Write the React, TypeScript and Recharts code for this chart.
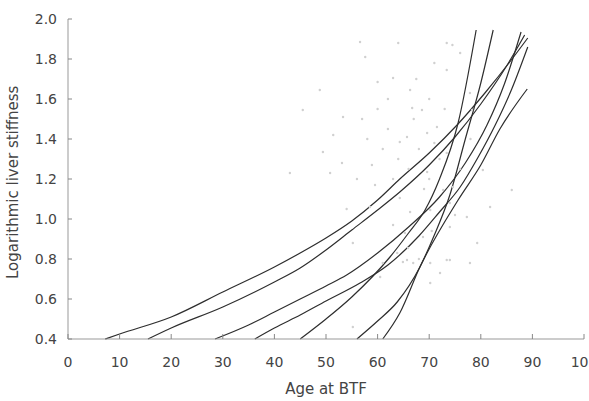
import React from "react";
import { ComposedChart, Line, Scatter, XAxis, YAxis } from "recharts";

// tick labels
const xTicks = [0, 10, 20, 30, 40, 50, 60, 70, 80, 90, 100];
const yTicks = [0.4, 0.6, 0.8, 1.0, 1.2, 1.4, 1.6, 1.8, 2.0];

// fitted curves (age, log stiffness)
const curve1 = [
  [7.2, 0.4], [10, 0.425], [20, 0.51], [30, 0.635], [40, 0.76], [45, 0.83], [50, 0.905],
  [55, 0.99], [60, 1.095], [64.3, 1.2], [70, 1.33], [75.4, 1.47], [80.8, 1.63], [86.2, 1.805], [89.1, 1.905],
];
const curve2 = [
  [15.5, 0.4], [20, 0.455], [30, 0.56], [40, 0.685], [45, 0.755], [50, 0.845], [55, 0.945],
  [60, 1.045], [64.3, 1.135], [70, 1.27], [75, 1.41], [80, 1.575], [85, 1.765], [88.5, 1.92],
];
const curve3 = [
  [28.5, 0.4], [35, 0.47], [40, 0.535], [45, 0.6], [50, 0.665], [54, 0.72], [60, 0.83],
  [66, 0.96], [72, 1.11], [77, 1.28], [81.2, 1.47], [84.5, 1.67], [87.8, 1.935],
];
const curve4 = [
  [36.2, 0.4], [40, 0.455], [45, 0.52], [50, 0.59], [56.6, 0.68], [62, 0.77], [68, 0.915],
  [72, 1.035], [76, 1.16], [79.5, 1.31], [82.8, 1.47], [86, 1.65], [89.1, 1.86],
];
const curve5 = [
  [45, 0.4], [50, 0.5], [55, 0.61], [62.4, 0.81], [66, 0.93], [69.2, 1.045], [72, 1.2], [75.6, 1.48], [79.1, 1.945],
];
const curve6 = [
  [56, 0.4], [60, 0.49], [63.8, 0.585], [68.2, 0.76], [71, 0.92], [74, 1.12], [77, 1.4], [80, 1.68], [82.4, 1.945],
];
const curve7 = [
  [61, 0.4], [64.3, 0.53], [68.2, 0.76], [75.6, 1.095], [80, 1.27], [83.7, 1.45], [89, 1.65],
];

// individual patients (faint dots)
const patients = [
  [56.6, 1.885], [64, 1.88], [73.4, 1.88], [74.5, 1.87], [57.6, 1.81], [63, 1.705], [60, 1.685],
  [66.3, 1.645], [48.8, 1.645], [45.5, 1.545], [53.3, 1.51], [57, 1.5], [66.7, 1.555], [68.6, 1.545],
  [51.4, 1.42], [65.7, 1.41], [69.6, 1.43], [49.4, 1.335], [53.1, 1.28], [58.9, 1.27], [50.8, 1.23],
  [69.6, 1.235], [73.4, 1.33], [80.4, 1.245], [86, 1.145], [74.6, 1.16], [64.3, 1.385], [71.5, 1.46],
  [73.4, 1.745], [76, 1.83], [78.3, 1.545], [77.9, 1.63], [43, 1.23], [58.5, 1.06], [63, 0.97],
  [65.7, 0.795], [68, 0.8], [72.1, 0.73], [74, 0.795], [77.9, 0.78], [77.3, 1.01], [79.3, 0.88],
  [81.8, 1.06], [70.2, 0.68], [55.2, 0.46], [65.3, 0.93], [70.5, 0.94], [74, 0.96], [59.5, 1.17],
  [64.3, 1.105], [66.3, 1.035], [70.2, 1.045], [72.7, 1.145], [74, 1.08], [55.2, 0.88], [65.9, 0.855],
  [64.9, 0.785], [66.9, 0.78], [70.2, 0.78], [73.4, 0.795], [60.5, 0.71], [63.8, 0.83], [68.8, 0.91],
  [61, 0.78], [64, 1.3], [66, 1.25], [68, 1.35], [70, 1.2], [72, 1.3], [67, 1.5], [70, 1.6],
  [62, 1.45], [60, 1.55], [58, 1.4], [71, 1.38], [73, 1.55], [63, 1.2], [69, 1.15], [76, 1.25],
  [78, 1.4], [62, 1.6], [67.5, 1.7], [71, 1.78], [61, 1.35], [56, 1.2], [54, 1.05], [75, 1.02],
];

const toPts = (arr: number[][]) => arr.map(([x, y]) => ({ x, y }));
const curves = [curve1, curve2, curve3, curve4, curve5, curve6, curve7].map(toPts);
const dots = toPts(patients);

const FONT = "'DejaVu Sans', Verdana, sans-serif";

const YTick = (props: any) => {
  const { x, y, payload } = props;
  return (
    <g>
      <text x={x} y={y} dy={5} textAnchor="end" fontSize={14} fill="#444" fontFamily={FONT}>
        {Number(payload.value).toFixed(1)}
      </text>
      <line x1={x + 11} x2={x + 15} y1={y} y2={y} stroke="#888" />
    </g>
  );
};

const XTick = (props: any) => {
  const { x, y, payload } = props;
  return (
    <g>
      <text x={x} y={y} dy={16} textAnchor="middle" fontSize={14} fill="#444" fontFamily={FONT}>
        {payload.value}
      </text>
      <line x1={x} x2={x} y1={y - 12} y2={y - 17} stroke="#888" />
    </g>
  );
};

const Dot = (props: any) => <circle cx={props.cx} cy={props.cy} r={1.2} fill="#d0d0d0" />;

export default function App() {
  return (
    <div style={{ position: "absolute", left: 0, top: 0, background: "#fff" }}>
      <ComposedChart width={589} height={401} margin={{ top: 19, right: 5, left: 0, bottom: 0 }}>
        <XAxis
          type="number"
          dataKey="x"
          domain={[0, 100]}
          ticks={xTicks}
          interval={0}
          height={62}
          tickSize={0}
          tickMargin={12}
          tick={<XTick />}
          axisLine={{ stroke: "#999" }}
          label={{ value: "Age at BTF", position: "insideBottom", offset: 7, fontSize: 15, fill: "#444", fontFamily: FONT }}
        />
        <YAxis
          type="number"
          dataKey="y"
          domain={[0.4, 2.0]}
          ticks={yTicks}
          interval={0}
          width={68}
          tickSize={0}
          tickMargin={11}
          tick={<YTick />}
          axisLine={{ stroke: "#999" }}
          label={{
            value: "Logarithmic liver stiffness",
            angle: -90,
            position: "insideLeft",
            offset: 13,
            dy: 100,
            fontSize: 15,
            fill: "#444",
            fontFamily: FONT,
          }}
        />
        <Scatter data={dots} shape={<Dot />} isAnimationActive={false} />
        {curves.map((c, i) => (
          <Line
            key={i}
            data={c}
            dataKey="y"
            type="monotone"
            stroke="#2e2e2e"
            strokeWidth={1.2}
            dot={false}
            activeDot={false}
            isAnimationActive={false}
          />
        ))}
      </ComposedChart>
    </div>
  );
}
